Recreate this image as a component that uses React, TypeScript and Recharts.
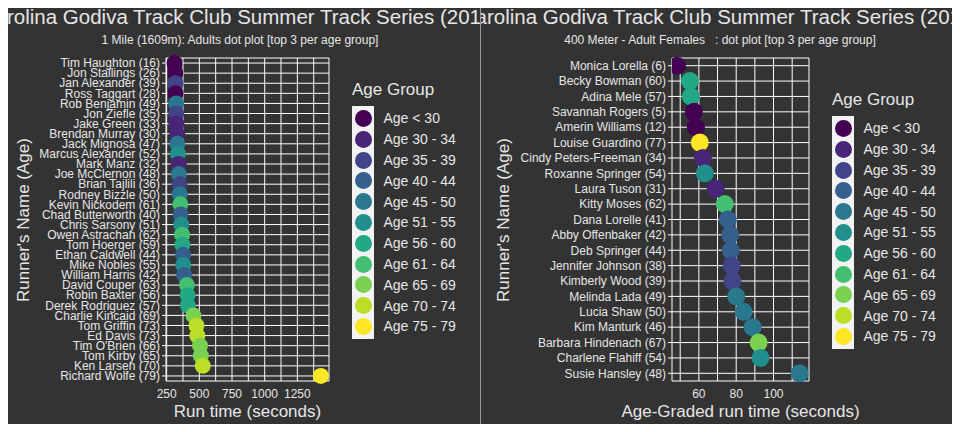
import { ScatterChart, Scatter, XAxis, YAxis, CartesianGrid, Cell } from 'recharts';

const ageGroups = ['Age < 30', 'Age 30 - 34', 'Age 35 - 39', 'Age 40 - 44', 'Age 45 - 50', 'Age 51 - 55', 'Age 56 - 60', 'Age 61 - 64', 'Age 65 - 69', 'Age 70 - 74', 'Age 75 - 79'];
const groupColors = ['#440154', '#482576', '#414487', '#35608D', '#2A788E', '#21908C', '#22A884', '#43BF71', '#7AD151', '#BBDF27', '#FDE725'];

const mileRunners = ['Tim Haughton (16)', 'Jon Stallings (26)', 'Jan Alexander (39)', 'Ross Taggart (28)', 'Rob Benjamin (49)', 'Jon Ziefle (35)', 'Jake Green (33)', 'Brendan Murray (30)', 'Jack Mignosa (47)', 'Marcus Alexander (52)', 'Mark Manz (32)', 'Joe McClernon (48)', 'Brian Tajlili (36)', 'Rodney Bizzle (50)', 'Kevin Nickodem (61)', 'Chad Butterworth (40)', 'Chris Sarsony (51)', 'Owen Astrachan (62)', 'Tom Hoerger (59)', 'Ethan Caldwell (44)', 'Mike Nobles (55)', 'William Harris (42)', 'David Couper (63)', 'Robin Baxter (56)', 'Derek Rodriguez (57)', 'Charlie Kincaid (69)', 'Tom Griffin (73)', 'Ed Davis (73)', "Tim O'Brien (66)", 'Tom Kirby (65)', 'Ken Larsen (70)', 'Richard Wolfe (79)'];
const mileTimes = [310, 316, 318, 318, 323, 324, 325, 331, 332, 337, 342, 343, 348, 350, 355, 357, 362, 368, 370, 375, 377, 384, 405, 410, 412, 455, 478, 485, 505, 512, 526, 1430];
const mileGroups = [0, 0, 2, 0, 4, 2, 1, 1, 4, 5, 1, 4, 2, 4, 7, 3, 5, 7, 6, 3, 5, 3, 7, 6, 6, 8, 9, 9, 8, 8, 9, 10];
const mileTicks = [250, 375, 500, 625, 750, 875, 1000, 1125, 1250, 1375];
const mileLabels = [250, 500, 750, 1000, 1250];

const meterRunners = ['Monica Lorella (6)', 'Becky Bowman (60)', 'Adina Mele (57)', 'Savannah Rogers (5)', 'Amerin Williams (12)', 'Louise Guardino (77)', 'Cindy Peters-Freeman (34)', 'Roxanne Springer (54)', 'Laura Tuson (31)', 'Kitty Moses (62)', 'Dana Lorelle (41)', 'Abby Offenbaker (42)', 'Deb Springer (44)', 'Jennifer Johnson (38)', 'Kimberly Wood (39)', 'Melinda Lada (49)', 'Lucia Shaw (50)', 'Kim Manturk (46)', 'Barbara Hindenach (67)', 'Charlene Flahiff (54)', 'Susie Hansley (48)'];
const meterTimes = [48.3, 55.2, 55.7, 57.3, 58.4, 60.5, 62.1, 63.2, 69.0, 73.9, 75.5, 76.8, 77.1, 77.6, 78.0, 80.0, 84.0, 88.8, 92.0, 93.0, 114.0];
const meterGroups = [0, 6, 6, 0, 0, 10, 1, 5, 1, 7, 3, 3, 3, 2, 2, 4, 4, 4, 8, 5, 4];
const meterTicks = [50, 60, 70, 80, 90, 100, 110];
const meterLabels = [60, 80, 100];

const FONT = '"Liberation Sans", Arial, sans-serif';
const TXT = '#e6e6e6';

type PanelProps = {
  title: string; subtitle: string; xTitle: string;
  names: string[]; values: number[]; groups: number[];
  ticks: number[]; labels: number[]; domain: [number, number];
  yWidth: number; r: number; nameSize: number; legendTop: number; legendGap: number; legendLeft: number;
};

function Panel(p: PanelProps) {
  const data = p.names.map((n, i) => ({ idx: i, v: p.values[i], g: p.groups[i] }));
  const plotLeft = 8 + p.yWidth;
  const plotW = 480 - 151 - plotLeft;
  return (
    <div style={{ position: 'relative', width: 480, height: 432, overflow: 'hidden', fontFamily: FONT, flex: 'none' }}>
      <div style={{ position: 'absolute', top: 5, left: -200, width: 880, textAlign: 'center', color: TXT, fontSize: 20.5, whiteSpace: 'nowrap' }}>{p.title}</div>
      <div style={{ position: 'absolute', top: 33, left: 0, width: 480, textAlign: 'center', color: TXT, fontSize: 12, whiteSpace: 'pre' }}>{p.subtitle}</div>
      <div style={{ position: 'absolute', left: 14, top: 220, transform: 'translate(-50%,-50%) rotate(-90deg)', color: TXT, fontSize: 17, whiteSpace: 'nowrap', marginLeft: 10 }}>Runner's Name (Age)</div>
      <div style={{ position: 'absolute', left: plotLeft, width: plotW, top: 402, color: TXT, fontSize: 17, whiteSpace: 'nowrap', display: 'flex', justifyContent: 'center' }}><span>{p.xTitle}</span></div>
      <ScatterChart width={480} height={432} margin={{ top: 58, right: 151, bottom: 31, left: 8 }} style={{ position: 'absolute', top: 0, left: 0 }}>
        <CartesianGrid stroke="#ffffff" strokeWidth={1} fill="#333333" />
        <XAxis type="number" dataKey="v" domain={p.domain} ticks={p.ticks} interval={0} allowDataOverflow height={20}
          tickFormatter={(t: number) => (p.labels.includes(t) ? String(t) : '')}
          axisLine={false} tickLine={false} tick={{ fill: TXT, fontSize: 12, fontFamily: FONT }} />
        <YAxis type="number" dataKey="idx" domain={[-0.5, p.names.length - 0.5]} reversed ticks={p.names.map((_, i) => i)} interval={0}
          width={p.yWidth} tickFormatter={(t: number) => p.names[t]} axisLine={false} tickLine={{ stroke: '#ffffff' }} tickSize={4}
          tick={{ fill: TXT, fontSize: p.nameSize, fontFamily: FONT }} />
        <Scatter data={data} isAnimationActive={false}
          shape={(s: any) => <circle cx={s.cx} cy={s.cy} r={p.r} fill={s.fill} />}>
          {data.map((d, i) => <Cell key={i} fill={groupColors[d.g]} />)}
        </Scatter>
      </ScatterChart>
      <div style={{ position: 'absolute', left: p.legendLeft, top: p.legendTop - 30, color: TXT, fontSize: 17 }}>Age Group</div>
      <div style={{ position: 'absolute', left: p.legendLeft, top: p.legendTop - 4, width: 22, height: p.legendGap * 11 + 4, background: '#f2f2f2' }} />
      {ageGroups.map((g, i) => (
        <div key={g} style={{ position: 'absolute', left: p.legendLeft, top: p.legendTop + i * p.legendGap, height: p.legendGap - 4, display: 'flex', alignItems: 'center' }}>
          <div style={{ width: 17, height: 17, borderRadius: '50%', background: groupColors[i], marginLeft: 2.5 }} />
          <span style={{ marginLeft: 12, color: TXT, fontSize: 14, whiteSpace: 'nowrap' }}>{g}</span>
        </div>
      ))}
    </div>
  );
}

export default function App() {
  return (
    <div style={{ margin: -8, width: 960, height: 432, background: '#333333', display: 'flex', position: 'relative' }}>
      <Panel title="Carolina Godiva Track Club Summer Track Series (2019)" subtitle="1 Mile (1609m): Adults dot plot [top 3 per age group]"
        xTitle="Run time (seconds)" names={mileRunners} values={mileTimes} groups={mileGroups}
        ticks={mileTicks} labels={mileLabels} domain={[245, 1492]} yWidth={158} r={8} nameSize={12}
        legendTop={110} legendGap={20.8} legendLeft={352} />
      <Panel title="Carolina Godiva Track Club Summer Track Series (2019)" subtitle="400 Meter - Adult Females   : dot plot [top 3 per age group]"
        xTitle="Age-Graded run time (seconds)" names={meterRunners} values={meterTimes} groups={meterGroups}
        ticks={meterTicks} labels={meterLabels} domain={[45.6, 119]} yWidth={184} r={9} nameSize={12}
        legendTop={120} legendGap={20.8} legendLeft={352} />
      <div style={{ position: 'absolute', left: 480, top: 0, width: 1, height: 432, background: '#999' }} />
    </div>
  );
}
